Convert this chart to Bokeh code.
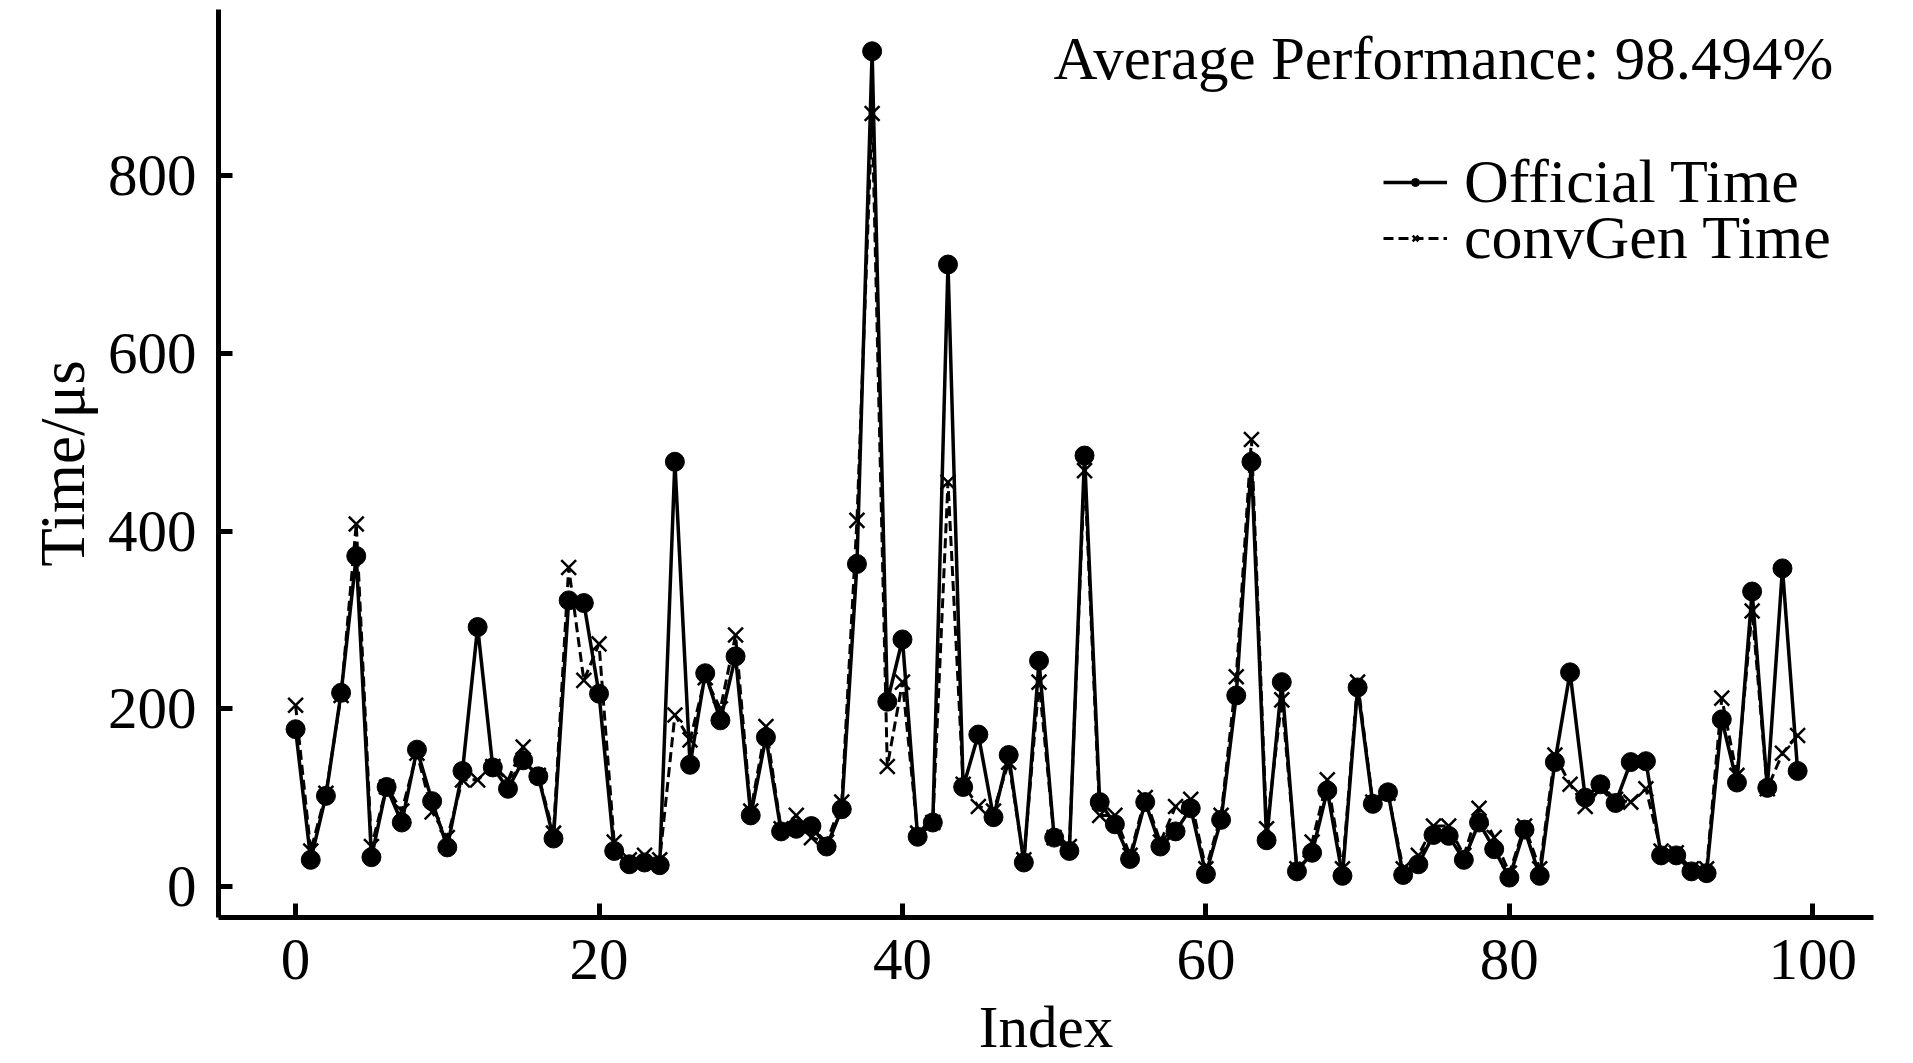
from bokeh.plotting import figure
from bokeh.models import Range1d, FixedTicker, Label, Legend, LegendItem
from bokeh.embed import file_html
from bokeh.resources import INLINE

index = list(range(100))

official_time = [
    177, 30, 102, 218, 372, 33, 112, 72, 154, 96,
    44, 130, 292, 134, 110, 142, 124, 54, 322, 319,
    217, 40, 25, 27, 24, 478, 137, 240, 187, 259,
    80, 168, 62, 65, 68, 45, 87, 363, 940, 208,
    278, 56, 72, 700, 112, 171, 78, 148, 27, 254,
    55, 40, 485, 95, 70, 31, 95, 45, 62, 88,
    14, 75, 215, 478, 52, 230, 17, 38, 108, 12,
    224, 93, 106, 13, 25, 58, 57, 30, 72, 42,
    10, 64, 12, 140, 241, 100, 115, 94, 140, 141,
    35, 35, 17, 15, 188, 117, 332, 111, 358, 130,
]

convgen_time = [
    204, 40, 105, 215, 408, 45, 112, 85, 150, 84,
    55, 120, 120, 135, 120, 157, 125, 60, 359, 232,
    273, 50, 30, 35, 30, 193, 165, 235, 200, 283,
    85, 180, 65, 80, 55, 50, 95, 412, 870, 135,
    230, 60, 72, 455, 115, 90, 85, 140, 30, 230,
    55, 45, 468, 80, 80, 35, 100, 50, 90, 98,
    20, 80, 236, 503, 65, 210, 20, 50, 120, 20,
    230, 95, 105, 20, 35, 68, 68, 35, 88, 55,
    15, 68, 20, 148, 115, 90, 110, 98, 95, 110,
    40, 38, 20, 20, 212, 125, 310, 110, 150, 170,
]

x_ticks = [0, 20, 40, 60, 80, 100]
y_ticks = [0, 200, 400, 600, 800]
x_label = "Index"
y_label = "Time/μs"
annotation_text = "Average Performance: 98.494%"

FONT = "Liberation Serif"
FS = "59px"

p = figure(
    width=1905, height=1063,
    x_range=Range1d(-5.08, 104.0), y_range=Range1d(-34.9, 987),
    output_backend="svg", toolbar_location=None,
    min_border_left=218, min_border_right=32, min_border_top=9, min_border_bottom=146,
)
p.background_fill_color = "white"
p.border_fill_color = "white"
p.outline_line_color = None
p.xgrid.grid_line_color = None
p.ygrid.grid_line_color = None

for ax in (p.xaxis[0], p.yaxis[0]):
    ax.axis_line_width = 5
    ax.axis_line_color = "black"
    ax.major_tick_line_width = 5
    ax.major_tick_line_color = "black"
    ax.major_tick_in = 14
    ax.major_tick_out = 0
    ax.minor_tick_line_color = None
    ax.major_label_text_font = FONT
    ax.major_label_text_font_size = FS
    ax.major_label_text_color = "black"
    ax.axis_label_text_font = FONT
    ax.axis_label_text_font_style = "normal"
    ax.axis_label_text_color = "black"

p.xaxis.ticker = FixedTicker(ticks=x_ticks)
p.yaxis.ticker = FixedTicker(ticks=y_ticks)
p.xaxis.axis_label = x_label
p.yaxis.axis_label = y_label
p.xaxis.axis_label_text_font_size = FS
p.yaxis.axis_label_text_font_size = "63px"
p.xaxis.major_label_standoff = 22
p.xaxis.axis_label_standoff = 12
p.yaxis.major_label_standoff = 22
p.yaxis.axis_label_standoff = 7

# convGen (dashed, x markers) drawn first, official on top
cl = p.line(index, convgen_time, line_color="black", line_width=3, line_dash="10 5")
cm = p.scatter(index, convgen_time, marker="x", size=21, line_color="black", line_width=2.5)
ol = p.line(index, official_time, line_color="black", line_width=3.5)
om = p.scatter(index, official_time, marker="circle", size=19, fill_color="black", line_color="black")

legend_style = dict(
    padding=0, spacing=0, margin=0,
    glyph_width=64, label_standoff=17,
    label_text_font=FONT, label_text_font_size="62px", label_text_color="black",
    background_fill_alpha=0, border_line_color=None,
)
legend_official = Legend(
    items=[LegendItem(label="Official Time", renderers=[ol, om])],
    location=(1165, 700), **legend_style,
)
legend_convgen = Legend(
    items=[LegendItem(label="convGen Time", renderers=[cl, cm])],
    location=(1165, 644), **legend_style,
)
p.add_layout(legend_official)
p.add_layout(legend_convgen)

p.add_layout(Label(
    x=101.35, y=932, text=annotation_text,
    text_align="right", text_baseline="alphabetic",
    text_font=FONT, text_font_size="61px", text_color="black",
))

open("out.html", "w").write(file_html(p, INLINE))
